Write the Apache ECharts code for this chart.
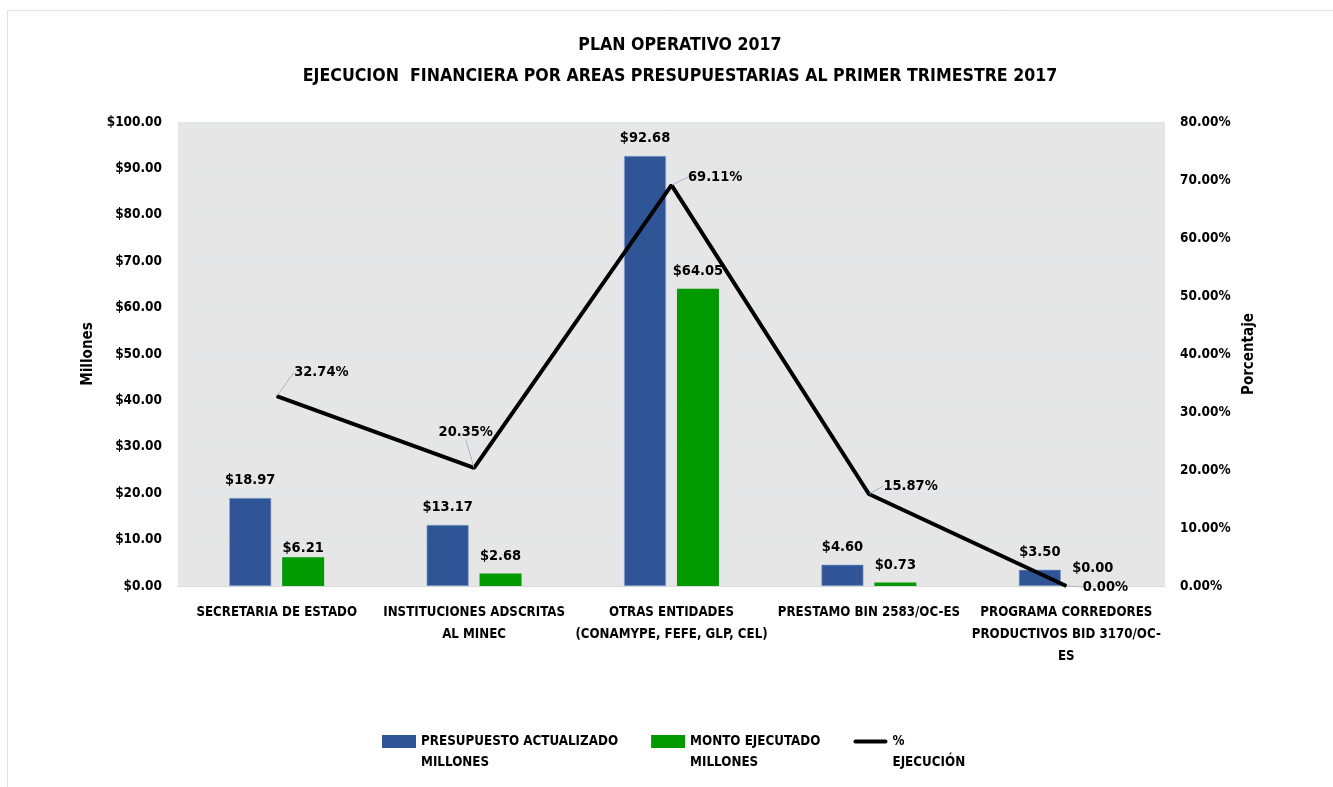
<!DOCTYPE html>
<html><head><meta charset="utf-8">
<script src="https://cdn.jsdelivr.net/npm/echarts@6/dist/echarts.min.js"></script>
<style>html,body{margin:0;padding:0;background:#fff}#c{width:1333px;height:787px}</style>
</head><body><div id="c"></div>
<script>
const categories = [
  'SECRETARIA DE ESTADO',
  'INSTITUCIONES ADSCRITAS\nAL MINEC',
  'OTRAS ENTIDADES\n(CONAMYPE, FEFE, GLP, CEL)',
  'PRESTAMO BIN 2583/OC-ES',
  'PROGRAMA CORREDORES\nPRODUCTIVOS BID 3170/OC-\nES'
];
const presupuesto = [18.97, 13.17, 92.68, 4.60, 3.50];
const ejecutado = [6.21, 2.68, 64.05, 0.73, 0.00];
const porcentaje = [32.74, 20.35, 69.11, 15.87, 0.00];
const leftTicks = {min: 0, max: 100, interval: 10};
const rightTicks = {min: 0, max: 80, interval: 10};

const FONT = '"DejaVu Sans Condensed","Liberation Sans Narrow","Liberation Sans",sans-serif';
const lineLabelShift = [[17,-24],[-36,-36],[16,-8],[14,-8],[16,1]];
const greenLabelDist = [1,10,10,10,10];

const chart = echarts.init(document.getElementById('c'));
chart.setOption({
  animation: false,
  textStyle: {fontFamily: FONT, fontWeight: 'bold', color: '#000'},
  graphic: [{type:'rect', shape:{x:7.5,y:10.5,width:1400,height:800}, style:{fill:'none', stroke:'#dbe3ec', lineWidth:1}, silent:true}],
  title: {
    text: 'PLAN OPERATIVO 2017\nEJECUCION  FINANCIERA POR AREAS PRESUPUESTARIAS AL PRIMER TRIMESTRE 2017',
    left: 675, top: 25, textAlign: 'center',
    textStyle: {fontFamily: FONT, fontWeight:'bold', fontSize: 17.6, lineHeight: 31, color:'#000'}
  },
  grid: {left: 178, right: 168, top: 122, bottom: 201, show: true, backgroundColor: '#e6e6e6', borderWidth: 0},
  legend: {
    bottom: 9, left: 377, itemGap: 33, itemWidth: 34, itemHeight: 13,
    itemStyle: {borderWidth: 0},
    formatter: name => '\n' + name,
    textStyle: {fontFamily: FONT, fontWeight:'bold', fontSize: 13.3, lineHeight: 21, color:'#000'},
    data: [
      {name:'PRESUPUESTO ACTUALIZADO\nMILLONES', icon:'rect'},
      {name:'MONTO EJECUTADO\nMILLONES', icon:'rect'},
      {name:'%\nEJECUCIÓN', icon:'path://M2,4 L32,4 A2,2 0 0 1 32,8 L2,8 A2,2 0 0 1 2,4 Z'}
    ]
  },
  xAxis: {
    type: 'category', data: categories,
    axisLine: {lineStyle:{color:'#d9d9d9'}}, axisTick: {show:false},
    axisLabel: {fontFamily: FONT, fontWeight:'bold', fontSize: 13.2, lineHeight: 22, color:'#000', margin: 16, interval: 0}
  },
  yAxis: [
    {type:'value', min:leftTicks.min, max:leftTicks.max, interval:leftTicks.interval,
     name:'Millones', nameLocation:'middle', nameGap: 66, nameRotate: 90,
     nameTextStyle:{fontFamily: FONT, fontWeight:'bold', fontSize: 15, color:'#000'},
     axisLabel:{fontFamily: FONT, fontWeight:'bold', fontSize: 13.5, color:'#000', margin: 16, formatter: v => '$' + v.toFixed(2)},
     splitLine:{lineStyle:{color:'#dfe4ea'}}, axisLine:{show:false}, axisTick:{show:false}},
    {type:'value', min:rightTicks.min, max:rightTicks.max, interval:rightTicks.interval,
     name:'Porcentaje', nameLocation:'middle', nameGap: 73, nameRotate: 90,
     nameTextStyle:{fontFamily: FONT, fontWeight:'bold', fontSize: 15, color:'#000'},
     axisLabel:{fontFamily: FONT, fontWeight:'bold', fontSize: 13.5, color:'#000', margin: 15, formatter: v => v.toFixed(2) + '%'},
     splitLine:{show:false}, axisLine:{show:false}, axisTick:{show:false}}
  ],
  series: [
    {name:'PRESUPUESTO ACTUALIZADO\nMILLONES', type:'bar', data: presupuesto, barWidth: 42, barGap:'26%',
     itemStyle:{color:'#2f5597', borderColor:'#8ea9d6', borderWidth:0.6},
     label:{show:true, position:'top', distance: 10, fontFamily: FONT, fontWeight:'bold', fontSize:14.5, color:'#000', formatter: p => '$' + p.value.toFixed(2)}},
    {name:'MONTO EJECUTADO\nMILLONES', type:'bar', data: ejecutado.map((v,i)=>({value:v, label:{distance: greenLabelDist[i]}})), barWidth: 42,
     itemStyle:{color:'#009900'},
     label:{show:true, position:'top', distance: 10, fontFamily: FONT, fontWeight:'bold', fontSize:14.5, color:'#000', formatter: p => '$' + p.value.toFixed(2)}},
    {name:'%\nEJECUCIÓN', type:'line', yAxisIndex:1, data: porcentaje,
     showSymbol:true, symbol:'circle', symbolSize: 1, z: 5,
     lineStyle:{color:'#000', width:4}, itemStyle:{color:'#000'},
     labelLayout: p => ({dx: lineLabelShift[p.dataIndex][0], dy: lineLabelShift[p.dataIndex][1], hideOverlap: false}),
     labelLine: {show: true, lineStyle: {color: '#a9b6c8', width: 1}},
     label:{show:true, position:'right', distance: 0, fontFamily: FONT, fontWeight:'bold', fontSize:14.5, color:'#000', formatter: p => p.value.toFixed(2) + '%'}}
  ]
});
</script></body></html>
